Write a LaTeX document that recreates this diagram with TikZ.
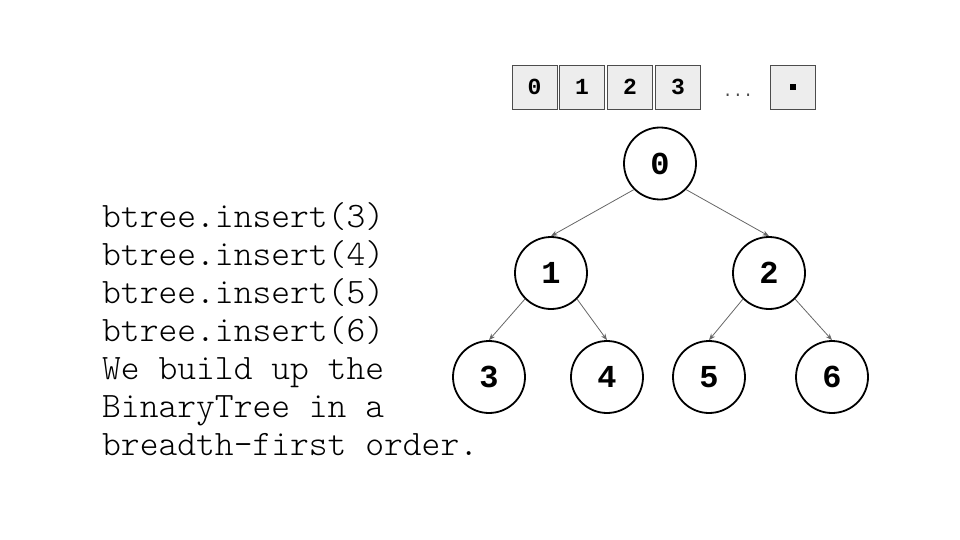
\documentclass[tikz,border=0pt]{standalone}
\usepackage{fontspec}
\newfontfamily\digitfont{Liberation Mono}
\newfontfamily\codefont{Latin Modern Mono Light}
\usetikzlibrary{arrows.meta}
\begin{document}
\begin{tikzpicture}[x=1pt,y=-1pt,
  cell/.style={draw=black!70,fill=black!7,line width=0.6pt,minimum width=45pt,minimum height=44pt,inner sep=0pt,font=\digitfont\bfseries\fontsize{23}{23}\selectfont},
  tnode/.style={circle,draw=black,line width=1.8pt,minimum size=72pt,inner sep=0pt,font=\digitfont\bfseries\fontsize{32}{32}\selectfont},
  edge/.style={draw=black!60,line width=0.8pt,-{Stealth[length=6.5pt,width=5pt]}},
  code/.style={anchor=base west,inner sep=0pt,font=\codefont\fontsize{35.8}{35.8}\selectfont}]
\useasboundingbox (0,0) rectangle (960,540);
% array
\node[cell] (a0) at (534.5,87) {0};
\node[cell] (a1) at (582,87) {1};
\node[cell] (a2) at (630,87) {2};
\node[cell] (a3) at (678,87) {3};
\node[inner sep=0pt,anchor=base,font=\digitfont\fontsize{17}{17}\selectfont,text=black!70] (dots) at (738,97) {...};
\node[cell] (an) at (793,87) {\rule{5.5pt}{5.5pt}};
% tree
\node[tnode] (n0) at (660,163.5) {0};
\node[tnode] (n1) at (551,273) {1};
\node[tnode] (n2) at (769,273) {2};
\node[tnode] (n3) at (489,377) {3};
\node[tnode] (n4) at (607,377) {4};
\node[tnode] (n5) at (709,377) {5};
\node[tnode] (n6) at (832,377) {6};
\draw[edge] (n0.south west) -- (n1.north);
\draw[edge] (n0.south east) -- (n2.north);
\draw[edge] (n1.south west) -- (n3.north);
\draw[edge] (n1.south east) -- (n4.north);
\draw[edge] (n2.south west) -- (n5.north);
\draw[edge] (n2.south east) -- (n6.north);
% code text
\node[code] (t1) at (102,227) {btree.insert(3)};
\node[code] (t2) at (102,265) {btree.insert(4)};
\node[code] (t3) at (102,303) {btree.insert(5)};
\node[code] (t4) at (102,341) {btree.insert(6)};
\node[code] (t5) at (102,379) {We build up the};
\node[code] (t6) at (102,417) {BinaryTree in a};
\node[code] (t7) at (102,455) {breadth-first order.};
\end{tikzpicture}
\end{document}
